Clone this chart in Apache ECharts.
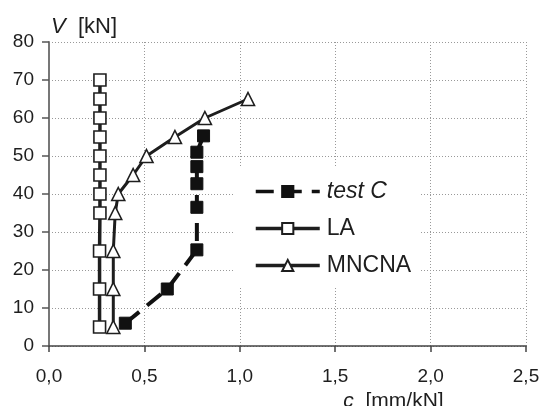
<!DOCTYPE html>
<html>
<head>
<meta charset="utf-8">
<script src="https://cdn.jsdelivr.net/npm/echarts@6/dist/echarts.min.js"></script>
<style>html,body{margin:0;padding:0;background:#fff}#c{width:543px;height:406px}</style>
</head>
<body>
<div id="c"></div>
<script>
// Data
const testC_c = [0.40, 0.62, 0.775, 0.775, 0.775, 0.775, 0.775, 0.81];
const testC_V = [6, 15, 25.3, 36.5, 42.7, 47.2, 51, 55.3];
const LA_c = [0.265, 0.265, 0.265, 0.267, 0.267, 0.267, 0.267, 0.267, 0.267, 0.267, 0.267];
const LA_V = [5, 15, 25, 35, 40, 45, 50, 55, 60, 65, 70];
const MN_c = [0.337, 0.337, 0.337, 0.347, 0.363, 0.441, 0.511, 0.66, 0.817, 1.043];
const MN_V = [5, 15, 25, 35, 40, 45, 50, 55, 60, 65];
const xTicks = ['0,0', '0,5', '1,0', '1,5', '2,0', '2,5'];
const yTicks = ['0', '10', '20', '30', '40', '50', '60', '70', '80'];
const seriesNames = ['test C', 'LA', 'MNCNA'];

const pairs = (a, b) => a.map((v, i) => [v, b[i]]);
const FONT = 'Liberation Sans, Arial, sans-serif';
const ink = '#1e1e1e';

const chart = echarts.init(document.getElementById('c'), null, {renderer: 'canvas'});
chart.setOption({
  animation: false,
  backgroundColor: '#fff',
  textStyle: {fontFamily: FONT},
  grid: {left: 49, right: 17, top: 42, bottom: 60, containLabel: false, outerBoundsMode: 'none'},
  xAxis: {
    type: 'value', min: 0, max: 2.5, interval: 0.5,
    axisLine: {show: true, onZero: false, lineStyle: {color: '#444', width: 1.5}},
    axisTick: {show: true, inside: false, length: 6, lineStyle: {color: '#444', width: 1.5}},
    axisLabel: {fontSize: 19, color: ink, fontFamily: FONT, margin: 21,
      formatter: (v) => xTicks[Math.round(v / 0.5)]},
    splitLine: {show: true, lineStyle: {color: '#999', type: [1, 2], width: 1}},
    name: '{i|c}  [mm/kN]',
    nameLocation: 'middle', nameGap: 42,
    nameTextStyle: {fontSize: 21, color: ink, fontFamily: FONT, padding: [0, 0, 0, 212],
      rich: {i: {fontStyle: 'italic', fontSize: 21, color: ink, fontFamily: FONT}}}
  },
  yAxis: {
    type: 'value', min: 0, max: 80, interval: 10,
    axisLine: {show: true, onZero: false, lineStyle: {color: '#777', width: 2}},
    axisTick: {show: true, inside: false, length: 7, lineStyle: {color: '#555', width: 1.5}},
    axisLabel: {fontSize: 19, color: ink, fontFamily: FONT, margin: 15,
      formatter: (v) => yTicks[Math.round(v / 10)]},
    splitLine: {show: true, lineStyle: {color: '#999', type: [1, 2], width: 1}},
    name: '{i|V}  [kN]',
    nameLocation: 'end', nameGap: 4,
    nameTextStyle: {fontSize: 22, color: ink, fontFamily: FONT, align: 'left', verticalAlign: 'bottom', padding: [0, 0, 0, 2],
      rich: {i: {fontStyle: 'italic', fontSize: 22, color: ink, fontFamily: FONT}}}
  },
  legend: {
    orient: 'vertical', left: 233, top: 167,
    backgroundColor: '#fff',
    padding: [13, 9, 9, 21],
    itemWidth: 64, itemHeight: 14, itemGap: 14,
    lineStyle: {width: 3.5},
    textStyle: {fontSize: 23, color: ink, fontFamily: FONT, padding: [0, 0, 0, 2]},
    data: [
      {name: 'test C', textStyle: {fontStyle: 'italic'}},
      {name: 'LA'},
      {name: 'MNCNA'}
    ]
  },
  series: [
    {
      name: seriesNames[1], type: 'line', data: pairs(LA_c, LA_V),
      symbol: 'rect', symbolSize: 12,
      lineStyle: {color: ink, width: 3.5},
      itemStyle: {color: '#fff', borderColor: ink, borderWidth: 1.6},
      z: 2
    },
    {
      name: seriesNames[2], type: 'line', data: pairs(MN_c, MN_V),
      symbol: 'triangle', symbolSize: 13,
      lineStyle: {color: ink, width: 3},
      itemStyle: {color: '#fff', borderColor: ink, borderWidth: 1.6},
      z: 3
    },
    {
      name: seriesNames[0], type: 'line', data: pairs(testC_c, testC_V),
      symbol: 'rect', symbolSize: 12,
      lineStyle: {color: '#111', width: 4, type: [18, 10]},
      itemStyle: {color: '#111', borderColor: '#111', borderWidth: 1},
      z: 4
    }
  ]
});
</script>
</body>
</html>
